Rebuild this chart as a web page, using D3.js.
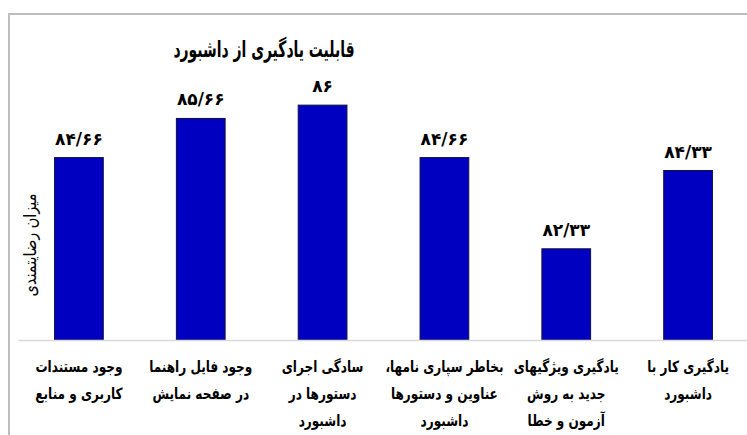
<!DOCTYPE html>
<html lang="fa">
<head>
<meta charset="utf-8">
<script src="https://cdn.jsdelivr.net/npm/d3@7"></script>
<style>
  html, body { margin: 0; padding: 0; background: #fff; }
  svg { display: block; }
  text { font-family: "DejaVu Sans", sans-serif; fill: #000; }
</style>
</head>
<body>
<svg id="chart" width="747" height="435"></svg>
<script>
// ---- data ----
const title = "قابلیت یادگیری از داشبورد";
const yAxisTitle = "میزان رضایتمندی";
const categories = [
  ["وجود مستندات", "کاربری و منابع"],
  ["وجود فایل راهنما", "در صفحه نمایش"],
  ["سادگی اجرای", "دستورها در", "داشبورد"],
  ["بخاطر سپاری نامها،", "عناوین و دستورها", "داشبورد"],
  ["یادگیری ویژگیهای", "جدید به روش", "آزمون و خطا"],
  ["یادگیری کار با", "داشبورد"]
];
const values = [84.66, 85.66, 86, 84.66, 82.33, 84.33];
const yDomain = [80, 87];

// ---- helpers ----
const faDigits = "۰۱۲۳۴۵۶۷۸۹";
const toFa = v => String(v).replace(".", "/").replace(/[0-9]/g, d => faDigits[+d]);

const svg = d3.select("#chart");
const W = 747, H = 435;

// frame
svg.append("path")
  .attr("d", `M9,${H} L9,14 L${W},14`)
  .attr("fill", "none")
  .attr("stroke", "#bdbdbd")
  .attr("stroke-width", 2);

const idx = categories.map((c, i) => i);
const x = d3.scaleBand().domain(idx).range([18, 749]).paddingInner(0.6).paddingOuter(0.3);
const y = d3.scaleLinear().domain(yDomain).range([340, 66]);

// bars
svg.append("g").selectAll("rect")
  .data(values)
  .join("rect")
  .attr("x", (d, i) => x(i))
  .attr("width", x.bandwidth())
  .attr("y", d => y(d))
  .attr("height", d => y(yDomain[0]) - y(d))
  .attr("fill", "#0000c0")
  .attr("stroke", "#101040")
  .attr("stroke-width", 1);

// x axis line
const xAxis = svg.append("g")
  .attr("transform", "translate(0,340)")
  .call(d3.axisBottom(x).tickSize(0).tickFormat(""));
xAxis.select(".domain").attr("stroke", "#d9d9d9").attr("stroke-width", 1.5);

// value labels
svg.append("g").selectAll("text")
  .data(values)
  .join("text")
  .attr("x", (d, i) => x(i) + x.bandwidth() / 2)
  .attr("y", d => y(d) - 13)
  .attr("text-anchor", "middle")
  .attr("font-size", 17)
  .attr("font-weight", "bold")
  .attr("letter-spacing", 0.5)
  .text(d => toFa(d));

// category labels (horizontally condensed like the narrow original typeface)
const catG = svg.append("g").selectAll("text")
  .data(categories)
  .join("text")
  .attr("transform", (d, i) => `translate(${x(i) + x.bandwidth() / 2},0) scale(0.78,1)`)
  .attr("direction", "rtl")
  .attr("text-anchor", "middle")
  .attr("font-size", 15.5)
  .attr("font-weight", "bold");
catG.selectAll("tspan")
  .data(d => d)
  .join("tspan")
  .attr("x", 0)
  .attr("y", (d, j) => 372 + j * 27)
  .text(d => d);

// title
svg.append("text")
  .attr("transform", "translate(264,57) scale(0.62,1)")
  .attr("text-anchor", "middle")
  .attr("direction", "rtl")
  .attr("font-size", 22.5)
  .attr("font-weight", "bold")
  .text(title);

// y axis title
svg.append("text")
  .attr("transform", "translate(36,245) rotate(-90) scale(0.85,1)")
  .attr("text-anchor", "middle")
  .attr("direction", "rtl")
  .attr("font-size", 17)
  .text(yAxisTitle);
</script>
</body>
</html>
